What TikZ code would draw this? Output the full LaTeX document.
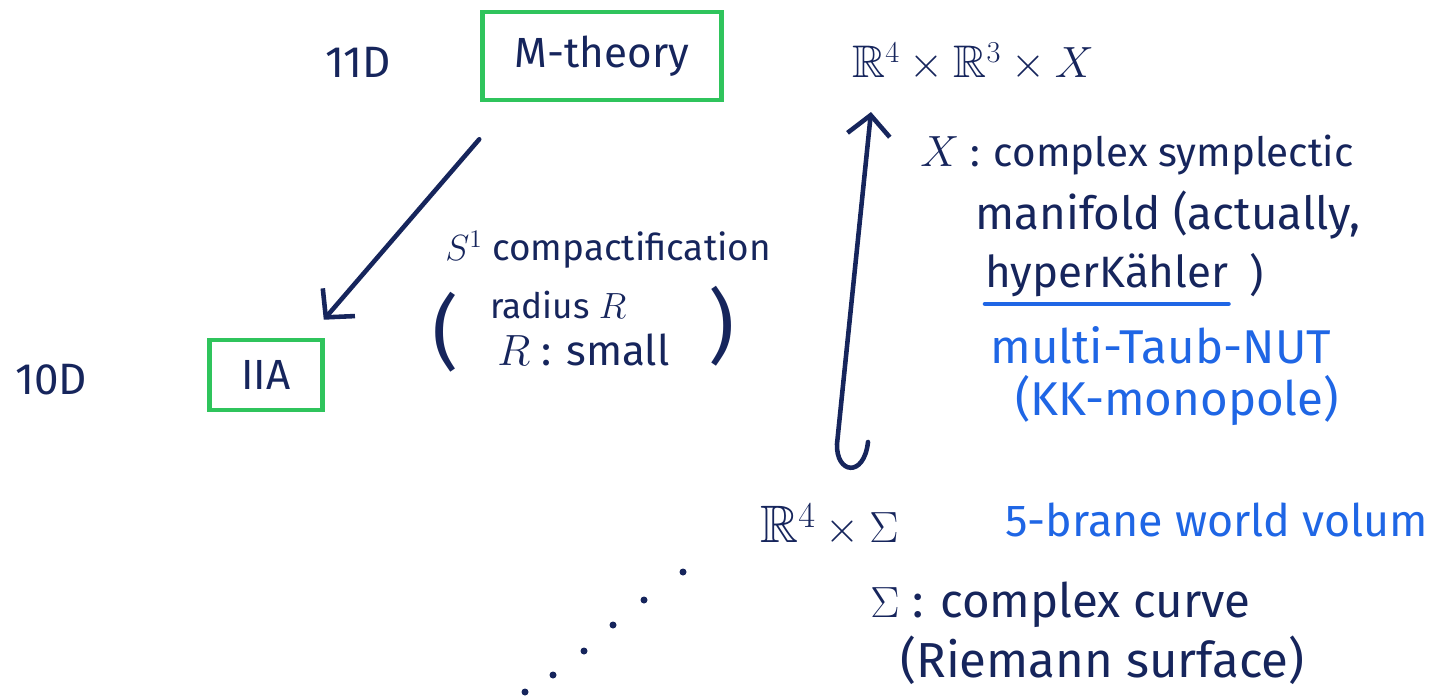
\documentclass[tikz,border=0pt]{standalone}
\usepackage{amsmath,amssymb}
\usepackage{fontspec}
\setmainfont{Fira Sans}
\usetikzlibrary{arrows.meta, positioning, calc}
\definecolor{ink}{HTML}{16255C}
\definecolor{note}{HTML}{1F66E5}
\definecolor{frame}{HTML}{2FC45C}

\begin{document}
\begin{tikzpicture}[
    x=0.02cm, y=-0.02cm,
    >={Straight Barb[length=4mm, width=8.5mm]},
    sz/.style={font=\fontsize{#1}{#1}\selectfont},
    hand/.style={inner sep=0pt, anchor=west, text=ink, sz=23},
    bluehand/.style={hand, text=note},
    theory/.style={draw=frame, line width=2.6pt, inner sep=0pt, text=ink, sz=24},
    stroke/.style={draw=ink, line width=2.6pt, line cap=round}
  ]
  \useasboundingbox (0,0) rectangle (1443,697);

  \node[hand, sz=25] (dim11) at (325,62) {11D};
  \node[theory, minimum width=4.78cm, minimum height=1.76cm] (mth) at (602,56) {M-theory};
  \node[hand, sz=26] (r4x) at (852,62) {$\mathbb{R}^4\times\mathbb{R}^3\times X$};
  \node[hand, sz=25] (dim10) at (15,380) {10D};
  \node[theory, minimum width=2.26cm, minimum height=1.4cm] (iia) at (266,375) {IIA};

  \node[hand, sz=21] (s1) at (445,250) {$S^1$ compactification};
  \node[hand, sz=20] (rad) at (490,305) {radius $R$};
  \node[hand, sz=24] (small) at (497,350) {$R$ : small};
  \node[hand, sz=46] (lpar) at (432,332) {(};
  \node[hand, sz=46] (rpar) at (708,326) {)};

  \node[hand] (xdef) at (920,155) {$X$ : complex symplectic};
  \node[hand, sz=26] (mfd) at (975,215) {manifold (actually,};
  \node[hand, sz=25] (hk) at (985,275) {hyperKähler};
  \node[hand, sz=25, right=12pt of hk] (hkpar) {)};
  \node[bluehand, sz=27] (taub) at (990,345) {multi-Taub-NUT};
  \node[bluehand, sz=27] (kk) at (1015,400) {(KK-monopole)};

  \node[hand, sz=30] (r4s) at (760,525) {$\mathbb{R}^4\times\Sigma$};
  \node[bluehand, sz=25.5] (brane) at (1005,520) {5-brane world volum};
  \node[hand, sz=27] (sig) at (870,605) {$\Sigma$ : complex curve};
  \node[hand, sz=28] (riem) at (900,660) {(Riemann surface)};

  \draw[stroke, draw=note] ([yshift=-4pt]hk.south west) -- ([yshift=-4pt]hk.south east);

  \draw[stroke, ->] ($(mth.south west)+(-1,37)$) -- ($(iia.north east)+(-1,-18)$);
  \coordinate (hook) at ($(r4s.west)+(108,-83)$);
  \draw[stroke, ->] (hook) .. controls +(-4,36) and +(-1,30) .. ++(-31,2)
    -- ($(r4x.west)+(19,50)$);

  \foreach \dx/\dy in {683/572, 644/600, 613/625, 584/651, 553/675, 525/692}
    \fill[ink] (\dx,\dy) circle (0.07cm);
\end{tikzpicture}
\end{document}
